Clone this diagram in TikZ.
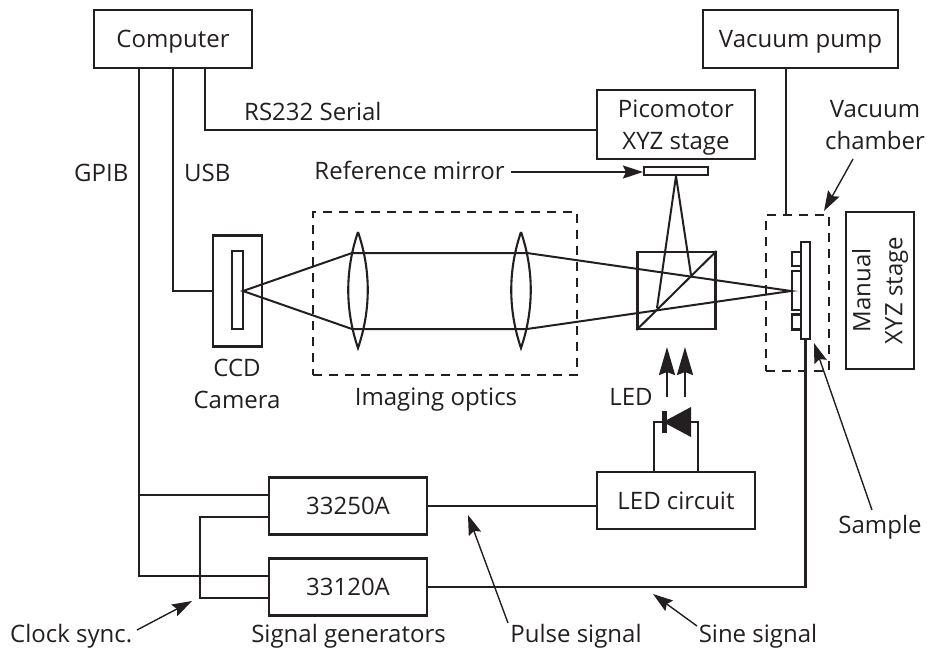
\documentclass[tikz,border=0pt]{standalone}
\usepackage{fontspec}
\setmainfont{Open Sans}
\usetikzlibrary{arrows.meta}
\definecolor{inkblack}{HTML}{231F20}
\begin{document}
\begin{tikzpicture}[x=1pt,y=-1pt,font=\fontsize{24}{32}\selectfont,color=inkblack,
  box/.style={draw=inkblack,line width=2.2pt,inner sep=0pt,align=center},
  oneline/.style={box,text height=17pt,text depth=0pt},
  part/.style={draw=inkblack,line width=2.1pt,inner sep=0pt},
  label/.style={inner sep=0pt,align=center},
  wire/.style={draw=inkblack,line width=2.2pt},
  ray/.style={draw=inkblack,line width=2pt},
  pointer/.style={draw=inkblack,line width=1.4pt,-{Stealth[length=20pt,width=13pt,inset=3pt]}},
  bigarrow/.style={draw=inkblack,line width=2.2pt,-{Stealth[length=28pt,width=16pt,inset=3pt]}},
  dashbox/.style={draw=inkblack,line width=2.2pt,inner sep=0pt,dash pattern=on 9pt off 7pt}]
  \useasboundingbox (0,0) rectangle (927,649);
  % boxes
  \node[oneline,minimum width=158pt,minimum height=58pt] (computer) at (173,39) {Computer};
  \node[oneline,minimum width=195pt,minimum height=58pt] (pump) at (800.5,39) {Vacuum pump};
  \node[box,minimum width=158pt,minimum height=69pt] (pico) at (676,124.5) {};
  \node[box,minimum width=49pt,minimum height=111pt] (ccd) at (237.5,291) {};
  \node[part,minimum width=11pt,minimum height=78pt] (chip) at (237.5,290) {};
  \node[oneline,minimum width=158pt,minimum height=57pt] (gena) at (348,506) {33250A};
  \node[oneline,minimum width=158pt,minimum height=57pt] (genb) at (348,587) {33120A};
  \node[oneline,minimum width=158pt,minimum height=57pt] (ledbox) at (676,500.5) {LED circuit};
  \node[box,minimum width=68pt,minimum height=157pt] (stage) at (880,290.5)
    {\rotatebox{90}{\begin{tabular}{@{}c@{}}Manual\\XYZ stage\end{tabular}}};
  % dashed enclosures
  \node[dashbox,minimum width=264pt,minimum height=163pt] (optics) at (445,293.5) {};
  \node[dashbox,minimum width=63pt,minimum height=156pt] (chamber) at (797.5,293) {};
  % cube, mirror and sample
  \node[part,minimum width=64pt,minimum height=8pt] (mirror) at (676,171) {};
  \node[part,minimum width=78pt,minimum height=77pt] (cube) at (676.5,290.5) {};
  \draw[ray] (cube.south west) -- (cube.north east);
  \node[part,minimum width=9pt,minimum height=97pt] (plate) at (805.5,290.5) {};
  \node[part,minimum width=9pt,minimum height=14pt] (tabtop) at (796.5,259) {};
  \node[part,minimum width=9pt,minimum height=39pt] (tabmid) at (796.5,290.5) {};
  \node[part,minimum width=9pt,minimum height=15pt] (tabbot) at (796.5,322) {};
  % lenses
  \draw[part] (358,232) .. controls (345,270) and (345,310) .. (358,348)
    .. controls (371,310) and (371,270) .. (358,232);
  \draw[part] (521,232) .. controls (508,270) and (508,310) .. (521,348)
    .. controls (534,310) and (534,270) .. (521,232);
  % rays
  \coordinate (focus) at (243,291);
  \coordinate (spot) at (791,291);
  \coordinate (lensupl) at (352,253);
  \coordinate (lensupr) at (527,253);
  \coordinate (lenslol) at (352,329);
  \coordinate (lenslor) at (527,329);
  \coordinate (splitlo) at (657,308);
  \coordinate (splitup) at (691,275);
  \draw[ray] (focus) -- (lensupl) -- (lensupr) -- (spot) -- (lenslor) -- (lenslol) -- cycle;
  \draw[ray] (mirror.south) -- (splitlo);
  \draw[ray] (mirror.south) -- (splitup);
  % wires
  \draw[wire] (computer.south -| 205,0) |- (pico.west |- 0,130);
  \draw[wire] (computer.south) |- (ccd.west);
  \draw[wire] (computer.south -| 139,0) |- (genb.west |- 0,576);
  \draw[wire] (139,495) -- (gena.west |- 0,495);
  \draw[wire] (gena.west |- 0,517) -| (200,598) -- (genb.west |- 0,598);
  \draw[wire] (gena.east) -- (ledbox.west |- gena.east);
  \draw[wire] (genb.east) -| (plate.south);
  \draw[wire] (pump.south -| 786,0) -- (chamber.north -| 786,0);
  \draw[wire] (ledbox.north -| 654,0) |- (698,422) -- (ledbox.north -| 698,0);
  % diode
  \fill[inkblack] (691,407) -- (663,422) -- (691,437) -- cycle;
  \fill[inkblack] (662,411) rectangle (667,433);
  % arrows
  \coordinate (beamtailone) at (667,397);
  \coordinate (beamtailtwo) at (685,397);
  \draw[bigarrow] (beamtailone) -- (beamtailone |- 0,347);
  \draw[bigarrow] (beamtailtwo) -- (beamtailtwo |- 0,347);
  \coordinate (mirrorfrom) at (511,172);
  \coordinate (chamberfrom) at (853,159);
  \coordinate (chamberto) at (824,211);
  \coordinate (samplefrom) at (872,510);
  \coordinate (sampleto) at (814,343);
  \coordinate (clockfrom) at (137,630);
  \coordinate (clockto) at (192,601);
  \coordinate (pulsefrom) at (508,623);
  \coordinate (pulseto) at (468,515);
  \coordinate (sinefrom) at (697,626);
  \coordinate (sineto) at (653,594);
  \draw[pointer] (mirrorfrom) -- (mirror.west |- mirrorfrom);
  \draw[pointer] (chamberfrom) -- (chamberto);
  \draw[pointer] (samplefrom) -- (sampleto);
  \draw[pointer] (clockfrom) -- (clockto);
  \draw[pointer] (pulsefrom) -- (pulseto);
  \draw[pointer] (sinefrom) -- (sineto);
  % labels
  \node[label,anchor=base] (picolabel) at (676,149) {Picomotor\\XYZ stage};
  \node[label,anchor=base west] (rslabel) at (244,120) {RS232 Serial};
  \node[label,anchor=base west] (gpiblabel) at (74,181) {GPIB};
  \node[label,anchor=base west] (usblabel) at (184,181) {USB};
  \node[label,anchor=base east] (mirrorlabel) at (505,179) {Reference mirror};
  \node[label,anchor=base] (chamberlabel) at (875,149) {Vacuum\\chamber};
  \node[label,anchor=base] (ccdlabel) at (237,408) {CCD\\Camera};
  \node[label,anchor=base] (opticslabel) at (436,405) {Imaging optics};
  \node[label,anchor=base] (ledlabel) at (631,405) {LED};
  \node[label,anchor=base] (samplelabel) at (880,533) {Sample};
  \node[label,anchor=base west] (clocklabel) at (10,642) {Clock sync.};
  \node[label,anchor=base] (genlabel) at (348.5,642) {Signal generators};
  \node[label,anchor=base] (pulselabel) at (576,642) {Pulse signal};
  \node[label,anchor=base] (sinelabel) at (758,642) {Sine signal};
\end{tikzpicture}
\end{document}
